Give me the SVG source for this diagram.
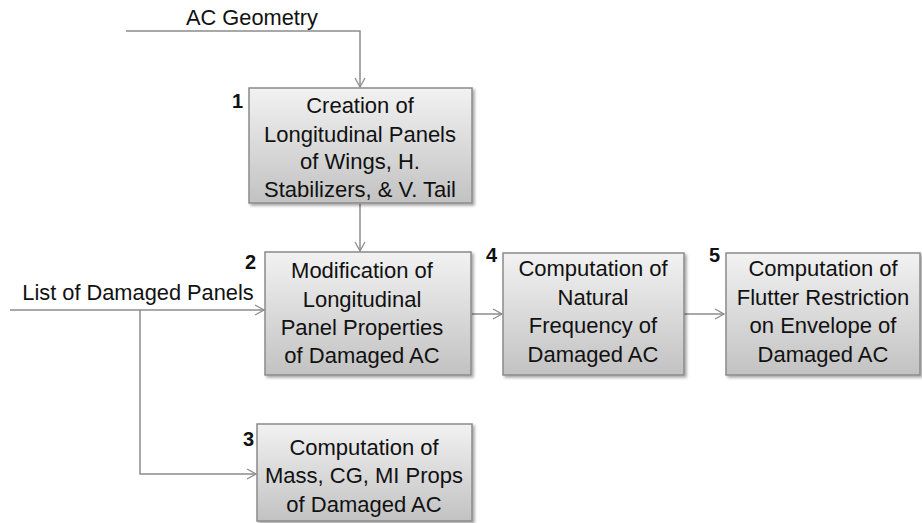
<svg xmlns="http://www.w3.org/2000/svg" width="922" height="523" viewBox="0 0 922 523">
<defs>
<linearGradient id="g" x1="0" y1="0" x2="0" y2="1">
<stop offset="0" stop-color="#f2f2f2"/>
<stop offset="1" stop-color="#c2c2c2"/>
</linearGradient>
<filter id="sh" x="-5%" y="-5%" width="115%" height="115%">
<feGaussianBlur in="SourceAlpha" stdDeviation="1.5"/>
<feOffset dx="2" dy="2" result="b"/>
<feComponentTransfer><feFuncA type="linear" slope="0.35"/></feComponentTransfer>
<feMerge><feMergeNode/><feMergeNode in="SourceGraphic"/></feMerge>
</filter>
<marker id="arr" markerWidth="12" markerHeight="12" refX="10" refY="6" orient="auto" markerUnits="userSpaceOnUse">
<path d="M1,1 L10,6 L1,11" fill="none" stroke="#8c8c8c" stroke-width="1.3"/>
</marker>
</defs>
<style>
.box{fill:url(#g);stroke:#8a8a8a;stroke-width:1.5;filter:url(#sh)}
.t{font-family:"Liberation Sans",Arial,sans-serif;font-size:22px;fill:#111;text-anchor:middle}
.lbl{font-family:"Liberation Sans",Arial,sans-serif;font-size:21.8px;fill:#111}
.n{font-family:"Liberation Sans",Arial,sans-serif;font-size:20px;font-weight:bold;fill:#111;text-anchor:end}
.c{fill:none;stroke:#8c8c8c;stroke-width:1.5}
</style>
<g id="connectors">
<path class="c" d="M126,31 H360 V87" marker-end="url(#arr)"/>
<path class="c" d="M360,204 V251" marker-end="url(#arr)"/>
<path class="c" d="M10,310 H264" marker-end="url(#arr)"/>
<path class="c" d="M140,310 V474 H256" marker-end="url(#arr)"/>
<path class="c" d="M472,314 H502" marker-end="url(#arr)"/>
<path class="c" d="M684,314 H724" marker-end="url(#arr)"/>
<text class="lbl" x="252" y="25" text-anchor="middle">AC Geometry</text>
<text class="lbl" x="138" y="300" text-anchor="middle">List of Damaged Panels</text>
</g>
<g id="node1">
<rect class="box" x="249" y="88" width="223" height="115"/>
<text class="n" x="243" y="108">1</text>
<text class="t" x="360" y="113">Creation of</text>
<text class="t" x="360" y="142">Longitudinal Panels</text>
<text class="t" x="360" y="169">of Wings, H.</text>
<text class="t" x="360" y="197">Stabilizers, &amp; V. Tail</text>
</g>
<g id="node2">
<rect class="box" x="265" y="252" width="206" height="123"/>
<text class="n" x="256" y="269">2</text>
<text class="t" x="362" y="278">Modification of</text>
<text class="t" x="362" y="307">Longitudinal</text>
<text class="t" x="362" y="335">Panel Properties</text>
<text class="t" x="362" y="363">of Damaged AC</text>
</g>
<g id="node3">
<rect class="box" x="257" y="424" width="215" height="97"/>
<text class="n" x="254" y="446">3</text>
<text class="t" x="364" y="455">Computation of</text>
<text class="t" x="364" y="483">Mass, CG, MI Props</text>
<text class="t" x="364" y="512">of Damaged AC</text>
</g>
<g id="node4">
<rect class="box" x="503" y="253" width="181" height="122"/>
<text class="n" x="497" y="262">4</text>
<text class="t" x="593" y="276">Computation of</text>
<text class="t" x="593" y="305">Natural</text>
<text class="t" x="593" y="333">Frequency of</text>
<text class="t" x="593" y="362">Damaged AC</text>
</g>
<g id="node5">
<rect class="box" x="726" y="253" width="194" height="122"/>
<text class="n" x="720" y="262">5</text>
<text class="t" x="823" y="276">Computation of</text>
<text class="t" x="823" y="305">Flutter Restriction</text>
<text class="t" x="823" y="333">on Envelope of</text>
<text class="t" x="823" y="362">Damaged AC</text>
</g>
</svg>
